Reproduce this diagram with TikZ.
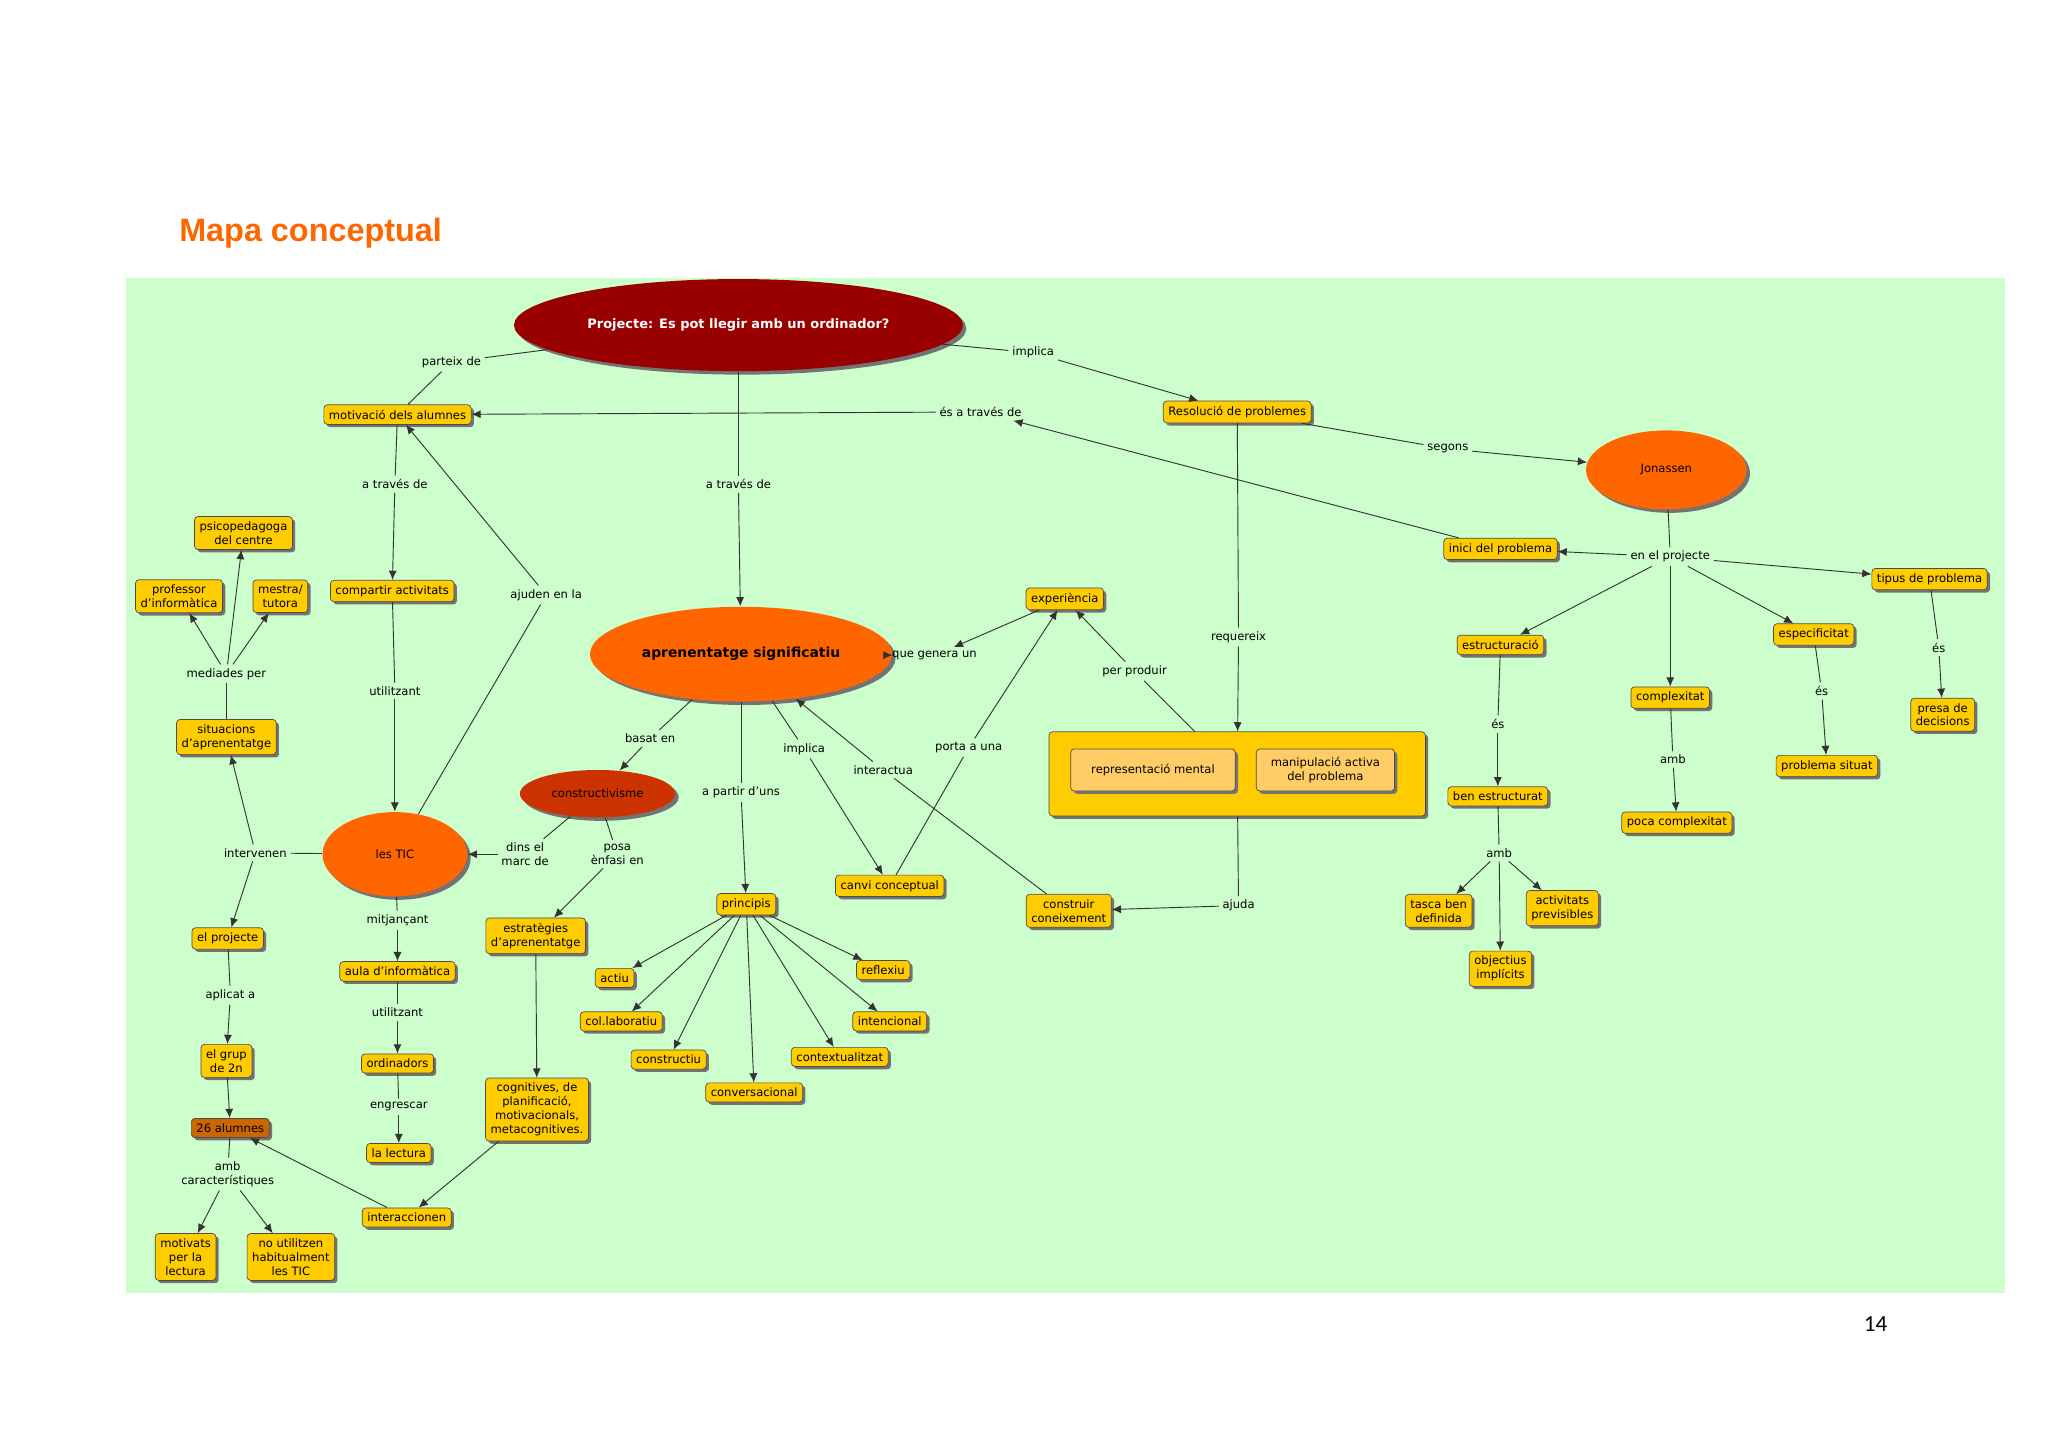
\documentclass[tikz,border=0pt]{standalone}
\usepackage{fontspec}
\setmainfont{DejaVu Sans}
\newfontfamily\titlefont{Liberation Sans}
\newfontfamily\numfont{Carlito}
\usetikzlibrary{shapes.geometric,arrows.meta,shadows}
\definecolor{bg}{HTML}{CCFFCC}
\definecolor{yel}{HTML}{FFCC00}
\definecolor{yel2}{HTML}{FFCC66}
\definecolor{ora}{HTML}{FF6600}
\definecolor{dred}{HTML}{990000}
\definecolor{rust}{HTML}{CC3300}
\definecolor{brn}{HTML}{CC6600}
\begin{document}
\begin{tikzpicture}[x=0.02cm,y=-0.02cm,
  box/.style={draw=black!70,line width=0.3pt,fill=yel,rounded corners=1.5pt,font=\fontsize{5}{6}\selectfont,align=center,inner sep=2.2pt,
    drop shadow={shadow xshift=1.2pt,shadow yshift=-1.2pt,fill=black!55,opacity=1}},
  ell/.style={ellipse,draw=none,fill=ora,font=\fontsize{5}{6}\selectfont,align=center,
    drop shadow={shadow xshift=1.5pt,shadow yshift=-1.5pt,fill=black!55,opacity=1}},
  lab/.style={font=\fontsize{5}{6}\selectfont,align=center,inner sep=1.5pt},
  ln/.style={draw=black!80,line width=0.4pt},
  ar/.style={ln,-{Latex[length=4pt,width=3.5pt]}}]
\useasboundingbox (0,0) rectangle (1556,1100);
\fill[white] (0,0) rectangle (1556,1100);
\fill[bg] (96,211) rectangle (1523,982);
\node[anchor=west,text=ora,font=\titlefont\fontsize{14}{16}\selectfont\bfseries] (title) at (130,177) {Mapa conceptual};
\node[font=\numfont\fontsize{10}{12}\selectfont] (pg) at (1425,1006) {14};
% main nodes
\node[ell,fill=dred,text=white,font=\fontsize{5.6}{6.6}\selectfont\bfseries,minimum width=5.6cm,minimum height=1.4cm] (P) at (561,247) {Projecte: Es pot llegir amb un ordinador?};
\node[box] (mot) at (302,315) {motivació dels alumnes};
\node[box] (res) at (940,313) {Resolució de problemes};
\node[ell,minimum width=2.44cm,minimum height=1.2cm] (jon) at (1266,357) {Jonassen};
\node[box] (inici) at (1140,417) {inici del problema};
\node[box] (tipus) at (1466,440) {tipus de problema};
\node[box] (presa) at (1476,543) {presa de\\decisions};
\node[box] (espec) at (1378,482) {especificitat};
\node[box] (probsit) at (1388,582) {problema situat};
\node[box] (complex) at (1269,530) {complexitat};
\node[box] (poca) at (1274,625) {poca complexitat};
\node[box] (estruc) at (1140,490) {estructuració};
\node[box] (benestr) at (1138,605) {ben estructurat};
\node[box] (tasca) at (1093,692) {tasca ben\\definida};
\node[box] (activ) at (1187,690) {activitats\\previsibles};
\node[box] (objec) at (1140,736) {objectius\\implícits};
\node[box] (exper) at (809,455) {experiència};
\node[box,minimum width=5.72cm,minimum height=1.28cm] (bigbox) at (940,588) {};
\node[box,fill=yel2,drop shadow={opacity=0},minimum height=0.64cm,minimum width=2.5cm] (repm) at (876,585) {representació mental};
\node[box,fill=yel2,drop shadow={opacity=0},minimum height=0.64cm,minimum width=2.1cm] (manip) at (1007,585) {manipulació activa\\del problema};
\node[box] (constr) at (812,692) {construir\\coneixement};
\node[box] (canvi) at (676,673) {canvi conceptual};
\node[ell,font=\fontsize{6}{7}\selectfont\bfseries,minimum width=3.76cm,minimum height=1.44cm] (apren) at (563,497) {aprenentatge significatiu};
\node[ell,fill=rust,minimum width=2.36cm,minimum height=0.72cm] (constv) at (454,603) {constructivisme};
\node[box] (princ) at (567,687) {principis};
\node[box] (actiu) at (467,743) {actiu};
\node[box] (col) at (472,776) {col.laboratiu};
\node[box] (constru) at (508,805) {constructiu};
\node[box] (convers) at (573,830) {conversacional};
\node[box] (context) at (638,803) {contextualitzat};
\node[box] (intenc) at (676,776) {intencional};
\node[box] (reflex) at (671,737) {reflexiu};
\node[box] (estrat) at (407,711) {estratègies\\d'aprenentatge};
\node[box] (cognit) at (408,843) {cognitives, de\\planificació,\\motivacionals,\\metacognitives.};
\node[ell,minimum width=2.2cm,minimum height=1.28cm] (tic) at (300,649) {les TIC};
\node[box] (compart) at (298,449) {compartir activitats};
\node[box] (aula) at (302,738) {aula d'informàtica};
\node[box] (ordin) at (302,808) {ordinadors};
\node[box] (lect) at (303,876) {la lectura};
\node[box] (interac) at (309,925) {interaccionen};
\node[box] (psico) at (185,405) {psicopedagoga\\del centre};
\node[box] (prof) at (136,453) {professor\\d'informàtica};
\node[box] (mestra) at (213,453) {mestra/\\tutora};
\node[box] (sit) at (172,560) {situacions\\d'aprenentatge};
\node[box] (proj) at (173,713) {el projecte};
\node[box] (grup) at (172,806) {el grup\\de  2n};
\node[box,fill=brn] (alum) at (175,857) {26 alumnes};
\node[box] (motiv) at (141,955) {motivats\\per la\\lectura};
\node[box] (noutil) at (221,955) {no utilitzen\\habitualment\\les TIC};
% labels
\node[lab] (l1) at (343,275) {parteix de};
\node[lab] (l2) at (785,268) {implica};
\node[lab] (l3) at (745,313) {és a través de};
\node[lab] (l4) at (1100,341) {segons};
\node[lab] (l5) at (1269,423) {en el projecte};
\node[lab] (l6) at (1473,492) {és};
\node[lab] (l7) at (1384,525) {és};
\node[lab] (l8) at (1271,577) {amb};
\node[lab] (l9) at (1138,550) {és};
\node[lab] (l10) at (1139,648) {amb};
\node[lab] (l11) at (941,484) {requereix};
\node[lab] (l12) at (862,510) {per produir};
\node[lab] (l13) at (941,688) {ajuda};
\node[lab] (l14) at (736,568) {porta a una};
\node[lab] (l15) at (671,585) {interactua};
\node[lab] (l16) at (611,569) {implica};
\node[lab] (l17) at (710,498) {que genera un};
\node[lab] (l18) at (561,368) {a través de};
\node[lab] (l19) at (494,561) {basat en};
\node[lab] (l20) at (563,602) {a partir d'uns};
\node[lab] (l21) at (399,649) {dins el\\marc de};
\node[lab] (l22) at (469,649) {posa\\ènfasi en};
\node[lab] (l23) at (300,368) {a través de};
\node[lab] (l24) at (415,452) {ajuden en la};
\node[lab] (l25) at (300,525) {utilitzant};
\node[lab] (l26) at (302,699) {mitjançant};
\node[lab] (l27) at (302,769) {utilitzant};
\node[lab] (l28) at (303,841) {engrescar};
\node[lab] (l29) at (172,512) {mediades per};
\node[lab] (l30) at (194,648) {intervenen};
\node[lab] (l31) at (175,756) {aplicat a};
\node[lab] (l32) at (173,892) {amb\\característiques};
% connectors
\draw[ln] (P) -- (l1); \draw[ln] (l1) -- (mot);
\draw[ln] (P) -- (l2); \draw[ar] (l2) -- (res);
\draw[ar] (inici) -- (l3); \draw[ar] (l3) -- (mot);
\draw[ln] (res) -- (l4); \draw[ar] (l4) -- (jon);
\draw[ln] (res) -- (l11); \draw[ar] (l11) -- (bigbox);
\draw[ln] (jon) -- (l5);
\draw[ar] (l5) -- (inici); \draw[ar] (l5) -- (tipus); \draw[ar] (l5) -- (espec);
\draw[ar] (l5) -- (complex); \draw[ar] (l5) -- (estruc);
\draw[ln] (tipus) -- (l6); \draw[ar] (l6) -- (presa);
\draw[ln] (espec) -- (l7); \draw[ar] (l7) -- (probsit);
\draw[ln] (complex) -- (l8); \draw[ar] (l8) -- (poca);
\draw[ln] (estruc) -- (l9); \draw[ar] (l9) -- (benestr);
\draw[ln] (benestr) -- (l10);
\draw[ar] (l10) -- (tasca); \draw[ar] (l10) -- (activ); \draw[ar] (l10) -- (objec);
\draw[ln] (bigbox) -- (l12); \draw[ar] (l12) -- (exper);
\draw[ln] (bigbox) -- (l13); \draw[ar] (l13) -- (constr);
\draw[ar] (exper) -- (l17); \draw[ar] (l17) -- (apren);
\draw[ln] (canvi) -- (l14); \draw[ar] (l14) -- (exper);
\draw[ln] (constr) -- (l15); \draw[ar] (l15) -- (apren);
\draw[ln] (apren) -- (l16); \draw[ar] (l16) -- (canvi);
\draw[ln] (P) -- (l18); \draw[ar] (l18) -- (apren);
\draw[ln] (apren) -- (l19); \draw[ar] (l19) -- (constv);
\draw[ln] (apren) -- (l20); \draw[ar] (l20) -- (princ);
\foreach \t in {actiu,col,constru,convers,context,intenc,reflex} \draw[ar] (princ) -- (\t);
\draw[ln] (constv) -- (l21); \draw[ar] (l21) -- (tic);
\draw[ln] (constv) -- (l22); \draw[ar] (l22) -- (estrat);
\draw[ar] (estrat) -- (cognit);
\draw[ar] (cognit) -- (interac);
\draw[ar] (interac) -- (alum);
\draw[ln] (mot) -- (l23); \draw[ar] (l23) -- (compart);
\draw[ln] (compart) -- (l25); \draw[ar] (l25) -- (tic);
\draw[ln] (tic) -- (l24); \draw[ar] (l24) -- (mot);
\draw[ln] (tic) -- (l26); \draw[ar] (l26) -- (aula);
\draw[ln] (aula) -- (l27); \draw[ar] (l27) -- (ordin);
\draw[ln] (ordin) -- (l28); \draw[ar] (l28) -- (lect);
\draw[ln] (tic) -- (l30); \draw[ar] (l30) -- (sit); \draw[ar] (l30) -- (proj);
\draw[ln] (sit) -- (l29);
\draw[ar] (l29) -- (prof); \draw[ar] (l29) -- (psico); \draw[ar] (l29) -- (mestra);
\draw[ln] (proj) -- (l31); \draw[ar] (l31) -- (grup);
\draw[ar] (grup) -- (alum);
\draw[ln] (alum) -- (l32); \draw[ar] (l32) -- (motiv); \draw[ar] (l32) -- (noutil);
\end{tikzpicture}
\end{document}
